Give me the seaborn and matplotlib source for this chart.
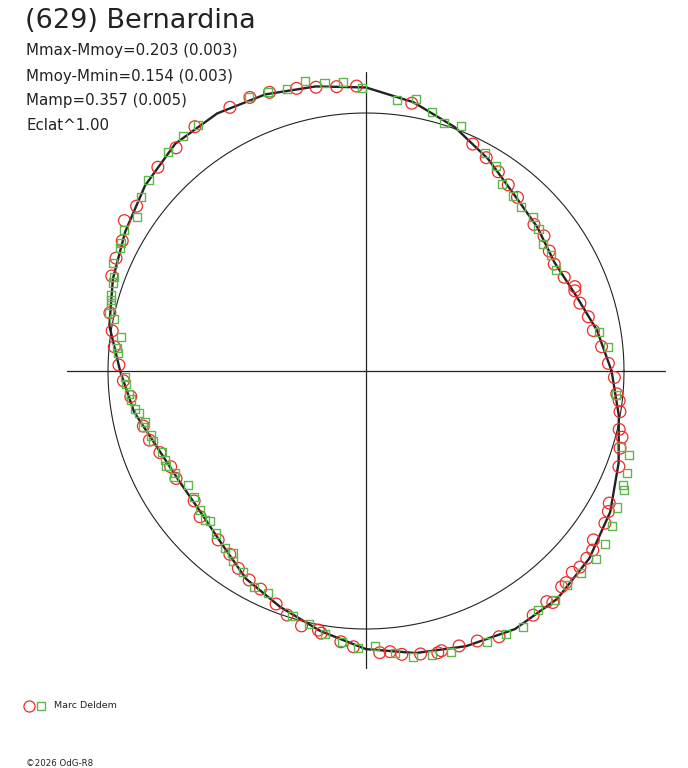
import numpy as np
import pandas as pd
import matplotlib
matplotlib.use("Agg")
import matplotlib.pyplot as plt
import seaborn as sns

# polar lightcurve: angle = rotational phase (deg), radius = relative brightness (Eclat^1)
curve_deg = [0, 10, 20, 30, 40, 50, 60, 70, 80, 90, 100, 110, 120, 130, 140, 150, 160, 170,
             180, 190, 200, 210, 220, 230, 240, 250, 260, 270, 280, 290, 300, 310, 320, 330,
             340, 350, 360]
curve_flux = [0.952, 0.909, 0.864, 0.843, 0.867, 0.893, 0.948, 1.006, 1.058, 1.099, 1.120,
              1.141, 1.153, 1.150, 1.118, 1.078, 1.044, 1.010, 0.953, 0.913, 0.862, 0.841,
              0.842, 0.872, 0.930, 0.973, 1.023, 1.078, 1.110, 1.135, 1.155, 1.153, 1.130,
              1.093, 1.042, 0.995, 0.952]

red_deg = [358.5, 1.8, 5.9, 10.1, 13.7, 17.6, 21.0, 22.0, 25.3, 29.6, 33.2, 37.2, 41.1, 48.9,
           52.6, 56.4, 60.6, 64.8, 80.3, 91.9, 95.9, 100.0, 103.8, 109.1, 113.0, 117.3, 125.0,
           130.4, 135.6, 144.3, 148.1, 151.9, 155.7, 159.5, 167.2, 171.0, 174.5, 178.6, 182.3,
           186.2, 193.9, 197.7, 201.6, 206.1, 209.5, 217.1, 221.3, 228.8, 233.4, 237.1, 240.8,
           244.2, 248.9, 252.1, 255.8, 259.6, 260.3, 264.7, 267.4, 272.8, 274.9, 277.2, 280.9,
           284.3, 285.1, 288.7, 292.4, 296.6, 304.4, 308.1, 308.9, 312.2, 313.4, 315.7, 317.5,
           319.7, 321.7, 323.4, 327.5, 329.9, 331.5, 339.3, 343.1, 345.5, 347.0, 350.9, 353.3,
           354.8]
red_flux = [0.963, 0.940, 0.918, 0.895, 0.887, 0.870, 0.867, 0.873, 0.850, 0.839, 0.849, 0.866,
            0.864, 0.893, 0.908, 0.927, 0.949, 0.972, 1.053, 1.105, 1.108, 1.117, 1.128, 1.143,
            1.152, 1.150, 1.156, 1.136, 1.129, 1.095, 1.103, 1.071, 1.063, 1.052, 1.018, 0.996,
            0.980, 0.958, 0.941, 0.917, 0.889, 0.881, 0.859, 0.843, 0.846, 0.835, 0.856, 0.870,
            0.885, 0.911, 0.928, 0.939, 0.968, 0.994, 1.019, 1.021, 1.031, 1.054, 1.070, 1.093,
            1.092, 1.107, 1.117, 1.127, 1.123, 1.125, 1.132, 1.152, 1.147, 1.136, 1.153, 1.129,
            1.129, 1.117, 1.125, 1.122, 1.120, 1.098, 1.098, 1.086, 1.073, 1.048, 1.029, 1.025,
            1.007, 0.997, 0.988, 0.976]

green_deg = [5.7, 9.5, 28.0, 32.1, 35.7, 39.4, 42.7, 46.6, 50.0, 54.1, 57.7, 61.3, 68.8, 72.5,
             75.8, 79.6, 83.5, 90.9, 94.5, 98.2, 101.9, 105.7, 109.3, 113.1, 124.3, 127.9,
             132.1, 138.7, 142.3, 146.1, 149.8, 152.5, 153.5, 157.0, 159.6, 160.7, 163.4, 164.5,
             165.5, 167.2, 168.3, 172.0, 174.8, 175.8, 181.4, 183.1, 185.6, 186.9, 189.4, 190.4,
             193.1, 194.0, 196.7, 198.1, 201.7, 203.9, 205.4, 208.0, 209.0, 212.7, 216.2, 220.0,
             222.8, 223.8, 227.3, 231.4, 233.7, 235.0, 238.5, 242.6, 246.3, 253.3, 257.3, 261.1,
             264.9, 268.3, 271.9, 275.9, 279.4, 283.0, 286.8, 294.0, 298.0, 301.6, 305.7, 309.5,
             313.2, 316.8, 320.7, 324.1, 327.8, 331.5, 335.2, 336.1, 338.7, 342.3, 343.5, 354.5]
green_flux = [0.944, 0.917, 0.834, 0.846, 0.846, 0.865, 0.881, 0.873, 0.885, 0.896, 0.942,
              0.962, 1.020, 1.007, 1.037, 1.073, 1.057, 1.096, 1.124, 1.127, 1.150, 1.134, 1.145,
              1.153, 1.154, 1.155, 1.144, 1.122, 1.102, 1.071, 1.086, 1.072, 1.066, 1.067, 1.042,
              1.038, 1.033, 1.027, 1.022, 1.021, 0.997, 0.959, 0.968, 0.963, 0.936, 0.932, 0.923,
              0.919, 0.908, 0.895, 0.879, 0.890, 0.870, 0.868, 0.852, 0.852, 0.858, 0.839, 0.851,
              0.818, 0.825, 0.839, 0.850, 0.838, 0.857, 0.876, 0.874, 0.900, 0.915, 0.942, 0.941,
              0.991, 1.006, 1.033, 1.053, 1.075, 1.066, 1.098, 1.122, 1.130, 1.137, 1.149, 1.154,
              1.164, 1.141, 1.151, 1.137, 1.142, 1.152, 1.145, 1.125, 1.109, 1.101, 1.089, 1.087,
              1.071, 1.032, 0.973]

title = "(629) Bernardina"
info_lines = ["Mmax-Mmoy=0.203 (0.003)", "Mmoy-Mmin=0.154 (0.003)",
              "Mamp=0.357 (0.005)", "Eclat^1.00"]
observer = "Marc Deldem"
credit = "\u00a92026 OdG-R8"


def to_xy(deg, flux):
    a = np.radians(np.asarray(deg))
    f = np.asarray(flux)
    return pd.DataFrame({"x": f * np.cos(a), "y": f * np.sin(a)})


sns.set_style("white")
plt.rcParams["font.family"] = ["DejaVu Sans"]

W, H, DPI = 688, 768, 100
scale = 258.0          # pixels per unit brightness
cx, cy = 366.0, 371.0  # centre in pixels

fig = plt.figure(figsize=(W / DPI, H / DPI), dpi=DPI)
ax = fig.add_axes([0, 0, 1, 1])
ax.axis("off")

ink = "#222222"
# axes cross and mean-brightness circle
ax.plot([-1.16, 1.16], [0, 0], color=ink, lw=0.9)
ax.plot([0, 0], [-1.15, 1.16], color=ink, lw=0.9)
t = np.linspace(0, 2 * np.pi, 400)
ax.plot(np.cos(t), np.sin(t), color=ink, lw=0.8)

# fitted curve
cdf = to_xy(curve_deg, curve_flux)
sns.lineplot(data=cdf, x="x", y="y", sort=False, estimator=None, color=ink,
             lw=1.7, ax=ax, legend=False)

# observations
red = "#ee2a2a"
green = "#5cb84a"
sns.scatterplot(data=to_xy(red_deg, red_flux), x="x", y="y", marker="o", s=72,
                facecolor="none", edgecolor=red, linewidth=0.9, ax=ax, zorder=4)
sns.scatterplot(data=to_xy(green_deg, green_flux), x="x", y="y", marker="s", s=34,
                facecolor="none", edgecolor=green, linewidth=1.0, ax=ax, zorder=5)

ax.set_xlim(-cx / scale, (W - cx) / scale)
ax.set_ylim(-(H - cy) / scale, cy / scale)

# texts (figure pixel coordinates)
def px(x, y):
    return x / W, 1 - y / H

fig.text(*px(25, 21), title, fontsize=19.5, color=ink, va="center", ha="left")
for i, line in enumerate(info_lines):
    fig.text(*px(26, 51 + 25 * i), line, fontsize=10.8, color=ink, va="center", ha="left")

fig.add_artist(plt.Line2D([px(29, 0)[0]], [px(0, 706)[1]], marker="o", ms=8,
                          mfc="none", mec=red, mew=0.9, transform=fig.transFigure))
fig.add_artist(plt.Line2D([px(41, 0)[0]], [px(0, 706)[1]], marker="s", ms=6,
                          mfc="none", mec=green, mew=1.0, transform=fig.transFigure))
fig.text(*px(54, 706), observer, fontsize=6.8, color=ink, va="center", ha="left")
fig.text(*px(26, 763), credit, fontsize=6.2, color=ink, va="center", ha="left")

fig.savefig("out.png", dpi=DPI)
